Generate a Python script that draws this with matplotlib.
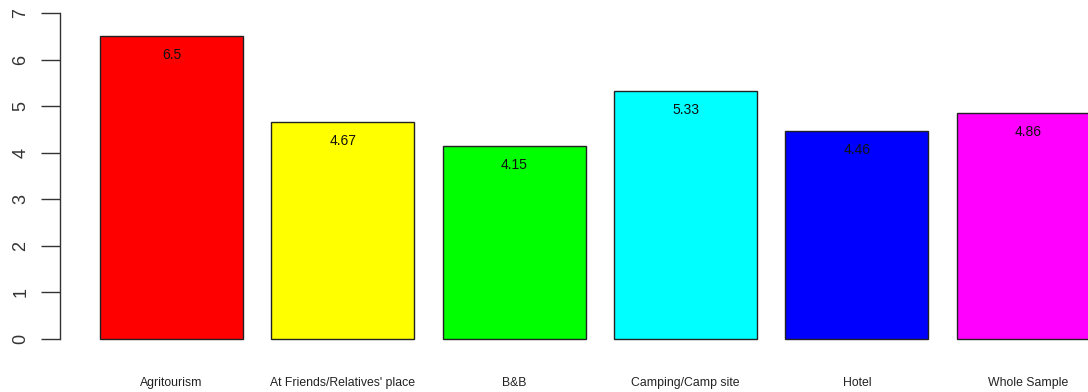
import matplotlib
matplotlib.use("Agg")
import matplotlib.pyplot as plt
import numpy as np

categories = ["Agritourism", "At Friends/Relatives' place", "B&B",
              "Camping/Camp site", "Hotel", "Whole Sample"]
values = [6.5, 4.67, 4.15, 5.33, 4.46, 4.86]
value_labels = ["6.5", "4.67", "4.15", "5.33", "4.46", "4.86"]
colors = ["#FF0000", "#FFFF00", "#00FF00", "#00FFFF", "#0000FF", "#FF00FF"]
yticks = [0, 1, 2, 3, 4, 5, 6, 7]

plt.rcParams['font.family'] = ['Liberation Sans', 'DejaVu Sans']

W, H = 1088, 392
fig = plt.figure(figsize=(W / 100, H / 100), dpi=100)
left_px, right_px = 60, 1139.6
bottom_px_from_top = 352
ax = fig.add_axes([left_px / W, (H - bottom_px_from_top) / H,
                   (right_px - left_px) / W, bottom_px_from_top / H])

x = 0.7 + 1.2 * np.arange(len(values))
ax.bar(x, values, width=1.0, color=colors, edgecolor="#222222", linewidth=1.0)

for xi, v, lab in zip(x, values, value_labels):
    ax.text(xi, v - 0.41, lab, ha="center", va="center", fontsize=10, color="#111111")

ax.set_xlim(-0.08, 7.48)
ax.set_ylim(-0.28, 7.28)

for s in ["top", "right", "bottom"]:
    ax.spines[s].set_visible(False)
ax.spines["left"].set_bounds(0, 7)
ax.spines["left"].set_color("#333333")
ax.spines["left"].set_linewidth(1.0)

ax.set_yticks(yticks)
ax.set_yticklabels([str(t) for t in yticks], rotation=90, va="center",
                   fontsize=13, color="#333333")
ax.tick_params(axis="y", length=14, width=1.0, color="#333333", pad=8)

ax.set_xticks(x)
ax.set_xticklabels(categories, fontsize=8.8, color="#222222")
ax.tick_params(axis="x", length=0, pad=18)

fig.savefig("out.png", dpi=100)
